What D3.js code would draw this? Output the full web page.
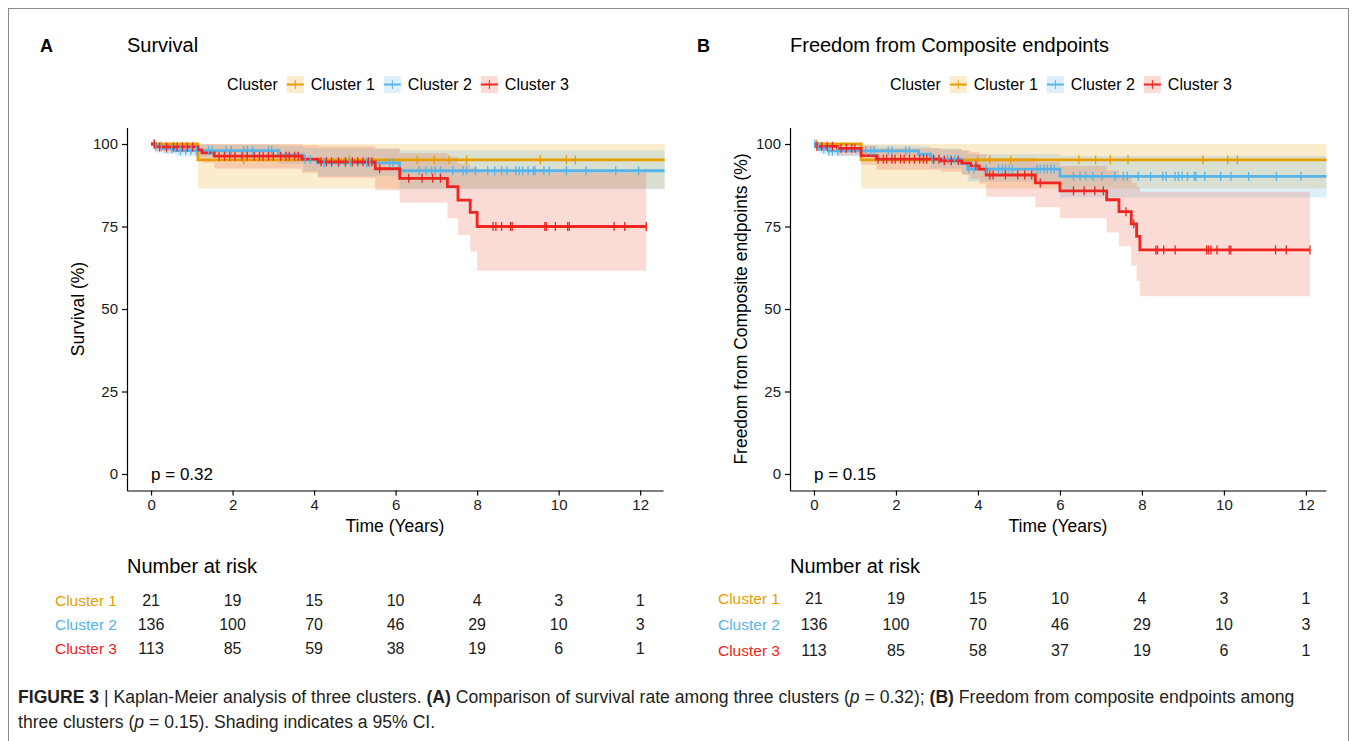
<!DOCTYPE html>
<html>
<head>
<meta charset="utf-8">
<script src="https://cdn.jsdelivr.net/npm/d3@7"></script>
<style>
body { margin: 0; background: #fff; }
svg text { font-family: "Liberation Sans", Arial, sans-serif; }
</style>
</head>
<body>
<svg id="fig" width="1357" height="741"></svg>
<script>
// ---- data ----
const clusters = ["Cluster 1", "Cluster 2", "Cluster 3"];
const timeTicks = [0, 2, 4, 6, 8, 10, 12];
const survTicks = [0, 25, 50, 75, 100];

// panel A : survival
const timesA1 = [0, 1.15, 12.6];
const survA1 = [100, 95.2, 95.2];
const lowA1 = [100, 86.5, 86.5];
const upA1 = [100, 100, 100];
const censA1 = [0.07, 2.27, 4.86, 6.53, 6.95, 7.31, 7.74, 9.55, 10.19, 10.41];

const timesA2 = [0, 0.1, 0.3, 0.6, 3.13, 3.74, 4.08, 6.1, 12.6];
const survA2 = [100, 99.3, 98.6, 98.0, 96.7, 95.3, 94.3, 91.9, 91.9];
const lowA2 = [100, 97.9, 97.0, 96.2, 94.0, 91.8, 90.2, 86.2, 86.2];
const upA2 = [100, 100, 100, 99.8, 99.3, 98.9, 98.6, 98.0, 98.0];
const censA2 = [0.12, 0.25, 0.38, 0.51, 0.72, 0.85, 0.98, 1.11, 1.41, 1.50, 1.84, 1.97, 2.27, 2.36, 2.49, 2.88, 2.96,
  3.78, 3.91, 4.25, 4.43, 4.60, 4.77, 4.90, 5.29, 5.37, 5.85, 5.93,
  6.58, 6.75, 6.88, 6.97, 7.10, 7.40, 7.66, 7.74, 7.96, 8.26, 8.43, 8.60, 8.73, 8.95, 9.03, 9.12, 9.25, 9.38, 9.42,
  9.64, 9.77, 10.19, 10.67, 11.40, 11.96];

const timesA3 = [0, 0.1, 1.15, 1.25, 1.55, 3.7, 4.1, 5.5, 6.1, 7.27, 7.53, 7.83, 8.0, 12.15];
const survA3 = [100, 99.1, 98.2, 97.3, 96.3, 95.4, 94.6, 92.5, 89.6, 87.1, 83.0, 79.3, 75.0, 75.0];
const lowA3 = [100, 97.4, 95.6, 94.3, 92.6, 91.3, 89.8, 86.0, 82.2, 77.5, 72.4, 67.4, 61.6, 61.6];
const upA3 = [100, 100, 100, 100, 99.9, 99.6, 99.3, 98.6, 97.2, 96.1, 94.0, 92.8, 91.3, 91.3];
const censA3 = [0.08, 0.21, 0.38, 0.55, 0.64, 0.77, 0.89, 1.02, 1.67, 1.80, 1.93, 2.06, 2.23, 2.36, 2.53, 2.66, 2.75,
  2.88, 3.00, 3.18, 3.31, 3.39, 3.52, 3.61, 4.17, 4.30, 4.43, 4.60, 4.77, 4.94, 5.07, 5.20, 5.33, 5.42, 5.61,
  6.32, 6.65, 6.91, 7.10, 8.39, 8.46, 8.60, 8.82, 8.86, 9.66, 9.70, 9.92, 10.22, 10.26, 11.36, 11.62, 12.15];

// panel B : freedom from composite endpoints
const timesB1 = [0, 1.15, 12.5];
const survB1 = [100, 95.2, 95.2];
const lowB1 = [100, 86.5, 86.5];
const upB1 = [100, 100, 100];
const censB1 = [0.07, 3.99, 4.29, 4.8, 6.46, 6.87, 7.23, 7.66, 9.49, 10.09, 10.33];

const timesB2 = [0, 0.05, 0.15, 0.35, 2.55, 2.85, 3.6, 3.75, 6.0, 12.5];
const survB2 = [100, 99.3, 98.5, 97.9, 96.9, 95.4, 94.2, 92.4, 90.2, 90.2];
const lowB2 = [100, 97.9, 97.0, 96.4, 94.6, 92.6, 90.9, 88.6, 83.8, 83.8];
const upB2 = [100, 100, 100, 99.6, 99.3, 98.6, 98.0, 97.0, 96.4, 96.4];
const censB2 = [0.02, 0.11, 0.24, 0.36, 0.45, 0.58, 1.26, 1.39, 1.47, 1.81, 1.90, 2.24, 2.33,
  2.88, 3.05, 3.18, 3.26, 3.35, 3.43, 3.52, 3.78, 3.90, 4.2, 4.5, 4.59, 4.67, 4.76, 4.84, 5.44, 5.52, 5.61, 5.69, 5.78, 5.86,
  6.33, 6.49, 6.63, 6.8, 7.02, 7.34, 7.55, 7.64, 7.91, 8.21, 8.51, 8.59, 8.81, 8.89, 8.98, 9.11, 9.28, 9.32, 9.53,
  9.92, 10.17, 10.6, 11.28, 11.88];

const timesB3 = [0, 0.05, 0.58, 1.15, 1.52, 3.09, 3.61, 3.82, 4.03, 4.2, 5.4, 6.0, 7.14, 7.44, 7.74, 7.87, 7.95, 12.1];
const survB3 = [100, 99.3, 98.7, 96.5, 95.4, 94.9, 94.2, 93.4, 92.4, 90.6, 88.2, 85.8, 83.1, 79.5, 75.8, 72.0, 67.9, 67.9];
const lowB3 = [100, 97.9, 96.5, 93.6, 92.2, 91.6, 90.6, 89.4, 88.0, 84.0, 80.8, 77.5, 73.2, 69.0, 63.2, 58.5, 53.9, 53.9];
const upB3 = [100, 100, 100, 99.5, 98.8, 98.4, 98.0, 97.6, 97.0, 95.8, 94.6, 93.3, 92.0, 90.3, 88.2, 86.8, 85.5, 85.5];
const censB3 = [0.07, 0.19, 0.32, 0.45, 0.66, 0.79, 0.92, 1.0, 1.56, 1.69, 1.77, 1.90, 1.98, 2.11, 2.2, 2.33, 2.45,
  2.58, 2.67, 2.75, 2.92, 3.05, 3.18, 3.35, 3.52, 3.95, 4.29, 4.37, 4.67, 4.97, 5.14, 5.31, 5.52,
  6.33, 6.59, 6.85, 7.06, 7.61, 7.8, 8.34, 8.38, 8.53, 8.81, 9.58, 9.62, 9.68, 9.83, 10.13, 10.17, 11.26, 11.52, 12.1];

// number at risk
const riskA1 = [21, 19, 15, 10, 4, 3, 1];
const riskA2 = [136, 100, 70, 46, 29, 10, 3];
const riskA3 = [113, 85, 59, 38, 19, 6, 1];
const riskB1 = [21, 19, 15, 10, 4, 3, 1];
const riskB2 = [136, 100, 70, 46, 29, 10, 3];
const riskB3 = [113, 85, 58, 37, 19, 6, 1];

const lineColors = ["#E69F00", "#56B4E9", "#EE2520"];
const bandColors = ["#E69F00", "#56B4E9", "#EA4B2B"];

const svg = d3.select("#fig");

// figure frame
svg.append("rect")
    .attr("x", 8.5).attr("y", 8.5)
    .attr("width", 1340).attr("height", 780)
    .attr("fill", "none").attr("stroke", "#8a8a8a").attr("stroke-width", 1);

function curve(times, surv, low, up, cens) {
    return { pts: times.map((t, j) => ({ t: t, s: surv[j], lo: low[j], hi: up[j] })), cens: cens };
}

function survAt(pts, t) {
    let v = pts[0].s;
    pts.forEach(d => { if (d.t <= t) v = d.s; });
    return v;
}

function drawPanel(p) {
    const x = d3.scaleLinear().domain(p.xdom).range([p.x0, p.x1]);
    const y = d3.scaleLinear().domain([-5, 105]).range([490.5, 127.5]);
    const g = svg.append("g");

    // confidence bands
    p.curves.forEach((c, i) => {
        g.append("path")
            .datum(c.pts)
            .attr("d", d3.area().curve(d3.curveStepAfter)
                .x(d => x(d.t)).y0(d => y(d.lo)).y1(d => y(d.hi)))
            .attr("fill", bandColors[i])
            .attr("fill-opacity", 0.2);
    });
    // km steps
    p.curves.forEach((c, i) => {
        g.append("path")
            .datum(c.pts)
            .attr("d", d3.line().curve(d3.curveStepAfter).x(d => x(d.t)).y(d => y(d.s)))
            .attr("fill", "none")
            .attr("stroke", lineColors[i])
            .attr("stroke-width", 2.8);
    });
    // censor marks
    p.curves.forEach((c, i) => {
        g.selectAll(null)
            .data(c.cens)
            .enter()
            .append("line")
            .attr("x1", d => x(d)).attr("x2", d => x(d))
            .attr("y1", d => y(survAt(c.pts, d)) - 4.5)
            .attr("y2", d => y(survAt(c.pts, d)) + 4.5)
            .attr("stroke", lineColors[i])
            .attr("stroke-width", 1.3);
    });

    // axes
    const xa = g.append("g")
        .attr("transform", "translate(0,490.5)")
        .call(d3.axisBottom(x).tickValues(timeTicks).tickSize(5).tickSizeOuter(0).tickPadding(4));
    const ya = g.append("g")
        .attr("transform", "translate(" + p.x0 + ",0)")
        .call(d3.axisLeft(y).tickValues(survTicks).tickSize(5).tickSizeOuter(0).tickPadding(4));
    [xa, ya].forEach(a => {
        a.selectAll("path, line").attr("stroke", "#000").attr("stroke-width", 1.2);
        a.selectAll("text").attr("font-size", 15).attr("fill", "#1a1a1a")
            .style("font-family", "'Liberation Sans', Arial, sans-serif");
    });

    g.append("text")
        .attr("x", (p.x0 + p.x1) / 2).attr("y", 532)
        .attr("text-anchor", "middle").attr("font-size", 17.5)
        .text("Time (Years)");
    g.append("text")
        .attr("transform", "translate(" + (p.x0 - 43) + ",309) rotate(-90)")
        .attr("text-anchor", "middle").attr("font-size", 17.5)
        .text(p.ytitle);
    g.append("text")
        .attr("x", x(0)).attr("y", 480)
        .attr("font-size", 17)
        .text(p.ptext);

    // letter + title
    g.append("text")
        .attr("x", p.lx).attr("y", 52)
        .attr("font-size", 18).attr("font-weight", "bold")
        .text(p.letter);
    g.append("text")
        .attr("x", p.x0).attr("y", 52)
        .attr("font-size", 20)
        .text(p.title);

    // legend
    const lg = g.append("g");
    let cx = 0;
    const lt = lg.append("text").attr("x", cx).attr("y", 90).attr("font-size", 16).text("Cluster");
    cx += lt.node().getComputedTextLength() + 9;
    clusters.forEach((name, i) => {
        lg.append("rect").attr("x", cx).attr("y", 76).attr("width", 17).attr("height", 17)
            .attr("fill", bandColors[i]).attr("fill-opacity", 0.2);
        lg.append("line").attr("x1", cx).attr("x2", cx + 17).attr("y1", 84.5).attr("y2", 84.5)
            .attr("stroke", lineColors[i]).attr("stroke-width", 2);
        lg.append("line").attr("x1", cx + 8.5).attr("x2", cx + 8.5).attr("y1", 80).attr("y2", 89)
            .attr("stroke", lineColors[i]).attr("stroke-width", 1);
        cx += 24;
        const t = lg.append("text").attr("x", cx).attr("y", 90).attr("font-size", 16).text(name);
        cx += t.node().getComputedTextLength() + 9;
    });
    cx -= 9;
    lg.attr("transform", "translate(" + ((p.x0 + p.x1) / 2 + 3 - cx / 2) + ",0)");

    // number at risk table
    g.append("text")
        .attr("x", p.x0).attr("y", 573)
        .attr("font-size", 20)
        .text("Number at risk");
    p.risk.forEach((row, i) => {
        g.append("text")
            .attr("x", p.x0 - 10).attr("y", p.rowY[i])
            .attr("text-anchor", "end").attr("font-size", 15.5)
            .attr("fill", lineColors[i])
            .text(clusters[i]);
        g.selectAll(null)
            .data(row)
            .enter()
            .append("text")
            .attr("x", (d, j) => x(timeTicks[j]))
            .attr("y", p.rowY[i])
            .attr("text-anchor", "middle").attr("font-size", 16)
            .attr("fill", "#1a1a1a")
            .text(d => d);
    });
}

drawPanel({
    x0: 127, x1: 663, xdom: [-0.59, 12.56], lx: 40,
    letter: "A", title: "Survival", ytitle: "Survival (%)", ptext: "p = 0.32",
    curves: [curve(timesA1, survA1, lowA1, upA1, censA1),
             curve(timesA2, survA2, lowA2, upA2, censA2),
             curve(timesA3, survA3, lowA3, upA3, censA3)],
    risk: [riskA1, riskA2, riskA3], rowY: [606, 630, 654]
});
drawPanel({
    x0: 790, x1: 1326, xdom: [-0.585, 12.49], lx: 697,
    letter: "B", title: "Freedom from Composite endpoints",
    ytitle: "Freedom from Composite endpoints (%)", ptext: "p = 0.15",
    curves: [curve(timesB1, survB1, lowB1, upB1, censB1),
             curve(timesB2, survB2, lowB2, upB2, censB2),
             curve(timesB3, survB3, lowB3, upB3, censB3)],
    risk: [riskB1, riskB2, riskB3], rowY: [604, 630, 656]
});

// caption
const cap = svg.append("text").attr("x", 18).attr("y", 703).attr("font-size", 17.6).attr("fill", "#231f20");
cap.append("tspan").attr("font-weight", "bold").text("FIGURE 3");
cap.append("tspan").text(" | Kaplan-Meier analysis of three clusters. ");
cap.append("tspan").attr("font-weight", "bold").text("(A)");
cap.append("tspan").text(" Comparison of survival rate among three clusters (");
cap.append("tspan").attr("font-style", "italic").text("p");
cap.append("tspan").text(" = 0.32); ");
cap.append("tspan").attr("font-weight", "bold").text("(B)");
cap.append("tspan").text(" Freedom from composite endpoints among");
const cap2 = svg.append("text").attr("x", 18).attr("y", 728).attr("font-size", 17.6).attr("fill", "#231f20");
cap2.append("tspan").text("three clusters (");
cap2.append("tspan").attr("font-style", "italic").text("p");
cap2.append("tspan").text(" = 0.15). Shading indicates a 95% CI.");
</script>
</body>
</html>
